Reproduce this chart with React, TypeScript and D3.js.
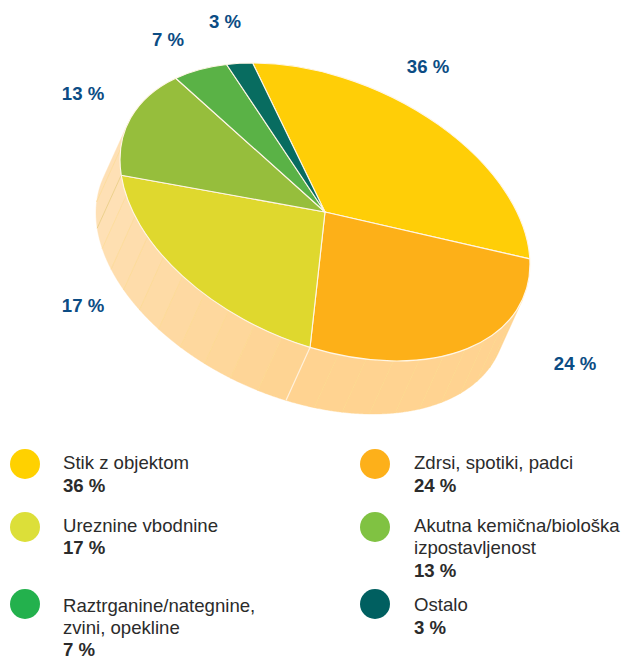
import React from "react";
import * as d3 from "d3";

const categories = ["Stik z objektom", "Zdrsi, spotiki, padci", "Ureznine vbodnine", "Akutna kemična/biološka izpostavljenost", "Raztrganine/nategnine, zvini, opekline", "Ostalo"];
const percents = [36, 24, 17, 13, 7, 3];
// the picture's slices are not drawn to scale: swept angle (deg) of each
const drawnSweep = [108.5, 96.4, 79.6, 49.5, 18, 8];
const sliceColors = ["#FFCE07", "#FDB018", "#DFD82E", "#96BE3C", "#5AB246", "#086C60"];
const legendColors = ["#FFD100", "#FDB01A", "#DCDF39", "#80C242", "#23B14D", "#005F60"];
const wallBands = [1, 10, 10, 2, 1, 1]; // facets on the side wall per slice
const wallStart = ["#FFD391", "#FFD391", "#FED493", "#FEE0B5", "#FEE0B5", "#FEE0B5"];
const wallEnd = ["#FFD391", "#FFD391", "#FEE0B5", "#FEE0B5", "#FEE0B5", "#FEE0B5"];
const labelPos: [number, number][] = [[428, 73], [575, 370], [83, 312], [83, 100], [168, 46], [225, 28]];

const legendRows = [
  { i: 0, x: 25, y: 464, lines: ["Stik z objektom"], base: [469, 492] },
  { i: 1, x: 375, y: 464, lines: ["Zdrsi, spotiki, padci"], base: [469, 492] },
  { i: 2, x: 25, y: 527, lines: ["Ureznine vbodnine"], base: [532, 554] },
  { i: 3, x: 375, y: 527, lines: ["Akutna kemična/biološka", "izpostavljenost"], base: [532, 554, 577] },
  { i: 4, x: 25, y: 604, lines: ["Raztrganine/nategnine,", "zvini, opekline"], base: [612, 634, 656] },
  { i: 5, x: 375, y: 604, lines: ["Ostalo"], base: [611, 634] },
];

const rad = Math.PI / 180;
const cx = 325, cy = 212, ax = 205, bx = 52.2, by = 139.6;
const depth: [number, number] = [-24, 53];
const visibleFrom = 105.3 * rad, visibleTo = 285.3 * rad;
const project = (a: number): [number, number] => [
  cx + ax * Math.sin(a),
  cy + bx * Math.sin(a) - by * Math.cos(a),
];
const pie = d3.pie<number>().value((d) => d).sort(null)
  .startAngle(-20.7 * rad).endAngle((360 - 20.7) * rad);
const arcs = pie(drawnSweep);
const unitArc = d3.arc<d3.PieArcDatum<number>>().innerRadius(0).outerRadius(1);
const line = d3.line();

function wallPath(a0: number, a1: number) {
  const angles = d3.range(0, 25).map((k) => a0 + ((a1 - a0) * k) / 24);
  const top = angles.map(project);
  const bottom = top.map(([x, y]): [number, number] => [x + depth[0], y + depth[1]]).reverse();
  return line([...top, ...bottom]) + "Z";
}

export default function App() {
  const walls: React.ReactNode[] = [];
  arcs.forEach((d, i) => {
    const s = Math.max(d.startAngle, visibleFrom);
    const e = Math.min(d.endAngle, visibleTo);
    if (e <= s) return;
    const n = wallBands[i];
    const col = d3.interpolateRgb(wallStart[i], wallEnd[i]);
    for (let k = 0; k < n; k++) {
      const a0 = s + ((e - s) * k) / n;
      const a1 = s + ((e - s) * (k + 1)) / n;
      walls.push(
        <path key={`w${i}-${k}`} d={wallPath(a0, a1)} fill={col(n > 1 ? k / (n - 1) : 0)}
          stroke={col(n > 1 ? k / (n - 1) : 0)} strokeWidth={0.4} />
      );
    }
  });
  const bandLines: React.ReactNode[] = [];
  arcs.forEach((d, i) => {
    const s = Math.max(d.startAngle, visibleFrom);
    const e = Math.min(d.endAngle, visibleTo);
    if (e <= s) return;
    const n = wallBands[i];
    for (let k = 1; k < n; k++) {
      const [x, y] = project(s + ((e - s) * k) / n);
      bandLines.push(<line key={`b${i}-${k}`} x1={x} y1={y} x2={x + depth[0]} y2={y + depth[1]}
        stroke="#FBD98A" strokeWidth={0.6} />);
    }
  });
  const seamAngles = [arcs[1].endAngle, arcs[2].endAngle];
  return (
    <svg width={624} height={659} style={{ position: "absolute", left: 0, top: 0 }}
      fontFamily="'Liberation Sans', Arial, sans-serif">
      <g>{walls}</g>
      <g>{bandLines}</g>
      {seamAngles.map((a, i) => {
        const [x, y] = project(a);
        return <line key={i} x1={x} y1={y} x2={x + depth[0]} y2={y + depth[1]}
          stroke={i === 0 ? "#FFF1DC" : "#E8CC80"} strokeWidth={i === 0 ? 1.2 : 0.8} />;
      })}
      <g transform={`matrix(${ax},${bx},0,${by},${cx},${cy})`}>
        {arcs.map((d, i) => (
          <path key={i} d={unitArc(d) as string} fill={sliceColors[i]} stroke="#FFF6E6"
            strokeWidth={1.1} vectorEffect="non-scaling-stroke" strokeLinejoin="round" />
        ))}
      </g>
      {percents.map((p, i) => (
        <text key={i} x={labelPos[i][0]} y={labelPos[i][1]} textAnchor="middle"
          fontSize={18.6} fontWeight="bold" fill="#0B4C84">{p} %</text>
      ))}
      {legendRows.map((r) => (
        <g key={r.i}>
          <circle cx={r.x} cy={r.y} r={15} fill={legendColors[r.i]} />
          {r.lines.map((t, j) => (
            <text key={j} x={r.x + 38 + (r.x > 100 ? 1 : 0)} y={r.base[j]} fontSize={18.6} fill="#2B2B2B">{t}</text>
          ))}
          <text x={r.x + 38 + (r.x > 100 ? 1 : 0)} y={r.base[r.lines.length]} fontSize={18.6}
            fontWeight="bold" fill="#2B2B2B">{percents[r.i]} %</text>
        </g>
      ))}
    </svg>
  );
}
